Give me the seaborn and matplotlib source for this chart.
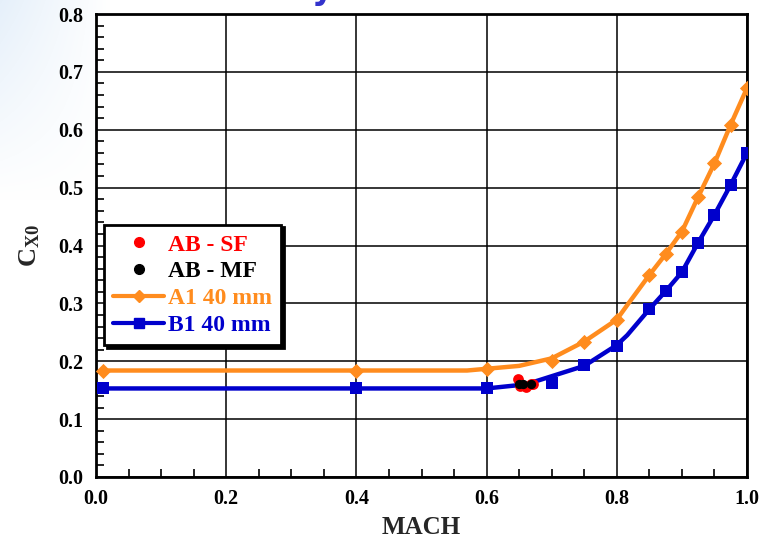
import numpy as np
import matplotlib
matplotlib.use("Agg")
import matplotlib.pyplot as plt
import seaborn as sns
from matplotlib.lines import Line2D
from matplotlib.ticker import MultipleLocator

# ---- data ----
a1_mach = [0.01, 0.4, 0.6, 0.7, 0.75, 0.8, 0.85, 0.875, 0.9, 0.925, 0.95, 0.975, 1.0]
a1_cx0 = [0.184, 0.184, 0.186, 0.201, 0.234, 0.271, 0.349, 0.385, 0.424, 0.484, 0.542, 0.609, 0.672]
a1_line_mach = [0.01, 0.4, 0.57, 0.65, 0.7, 0.75, 0.8, 0.816, 0.85, 0.875, 0.9, 0.925, 0.95, 0.975, 1.0]
a1_line_cx0 = [0.184, 0.184, 0.184, 0.192, 0.205, 0.234, 0.272, 0.297, 0.349, 0.385, 0.424, 0.484, 0.542, 0.609, 0.672]

b1_mach = [0.01, 0.4, 0.6, 0.7, 0.75, 0.8, 0.85, 0.875, 0.9, 0.925, 0.95, 0.975, 1.0]
b1_cx0 = [0.153, 0.153, 0.153, 0.163, 0.194, 0.226, 0.290, 0.321, 0.354, 0.405, 0.453, 0.505, 0.560]
b1_line_mach = [0.01, 0.4, 0.6, 0.66, 0.68, 0.75, 0.8, 0.816, 0.85, 0.875, 0.9, 0.925, 0.95, 0.975, 1.0]
b1_line_cx0 = [0.153, 0.153, 0.153, 0.160, 0.167, 0.192, 0.228, 0.245, 0.290, 0.321, 0.354, 0.405, 0.453, 0.505, 0.560]

absf_mach = [0.648, 0.652, 0.66, 0.668, 0.672]
absf_cx0 = [0.170, 0.158, 0.156, 0.160, 0.161]
abmf_mach = [0.650, 0.656, 0.668]
abmf_cx0 = [0.161, 0.160, 0.161]

labels = ["AB - SF", "AB - MF", "A1 40 mm", "B1 40 mm"]
x_ticks = [0.0, 0.2, 0.4, 0.6, 0.8, 1.0]
y_ticks = [0.0, 0.1, 0.2, 0.3, 0.4, 0.5, 0.6, 0.7, 0.8]

ORANGE = "#FF8C1E"
BLUE = "#0000CC"

sns.set_theme(style="white")
plt.rcParams["font.family"] = ["Liberation Serif", "DejaVu Serif"]
plt.rcParams["font.weight"] = "bold"
plt.rcParams["mathtext.fontset"] = "custom"
plt.rcParams["mathtext.rm"] = "Liberation Serif:bold"
plt.rcParams["mathtext.bf"] = "Liberation Serif:bold"
plt.rcParams["mathtext.it"] = "Liberation Serif:bold"

fig = plt.figure(figsize=(7.6, 5.4), dpi=100)

# faint slide background at left
bg = fig.add_axes([0, 0, 1, 1], zorder=-10)
bg.axis("off")
h, w = 540, 760
yy, xx = np.mgrid[0:h, 0:w]
fade = np.clip(1 - xx / 110.0, 0, 1) * np.clip(1 - yy / 200.0, 0, 1)
img = np.ones((h, w, 3))
img[..., 0] -= 0.10 * fade
img[..., 1] -= 0.06 * fade
img[..., 2] -= 0.02 * fade
bg.imshow(img, aspect="auto", extent=[0, 1, 0, 1], origin="upper")
bg.set_xlim(0, 1)
bg.set_ylim(0, 1)

ax = fig.add_axes([96 / 760, 1 - 477 / 540, 651 / 760, 463 / 540])
ax.set_facecolor("white")

sns.lineplot(x=a1_line_mach, y=a1_line_cx0, ax=ax, color=ORANGE, lw=3.2, sort=False, zorder=3)
sns.scatterplot(x=a1_mach, y=a1_cx0, ax=ax, color=ORANGE, marker="D", s=60, linewidth=0, zorder=4)
sns.lineplot(x=b1_line_mach, y=b1_line_cx0, ax=ax, color=BLUE, lw=3.2, sort=False, zorder=3)
sns.scatterplot(x=b1_mach, y=b1_cx0, ax=ax, color=BLUE, marker="s", s=75, linewidth=0, zorder=4)
sns.scatterplot(x=absf_mach, y=absf_cx0, ax=ax, color="red", marker="o", s=60, linewidth=0, zorder=5)
sns.scatterplot(x=abmf_mach, y=abmf_cx0, ax=ax, color="black", marker="o", s=45, linewidth=0, zorder=6)

ax.set_xlim(0, 1.0)
ax.set_ylim(0, 0.8)
ax.set_xticks(x_ticks)
ax.set_yticks(y_ticks)
ax.set_xticklabels([f"{v:.1f}" for v in x_ticks])
ax.set_yticklabels([f"{v:.1f}" for v in y_ticks])
ax.xaxis.set_minor_locator(MultipleLocator(0.05))
ax.yaxis.set_minor_locator(MultipleLocator(0.02))
ax.tick_params(axis="both", which="major", direction="in", length=0, labelsize=14.5, pad=9, colors="black")
ax.tick_params(axis="both", which="minor", direction="in", length=6, width=1.2, color="black")
ax.tick_params(axis="x", which="minor", bottom=True, top=False)
ax.tick_params(axis="y", which="minor", left=True, right=False)
for t in ax.get_xticklabels() + ax.get_yticklabels():
    t.set_fontweight("bold")
ax.grid(True, which="major", color="black", lw=1.1)
for s in ax.spines.values():
    s.set_color("black")
    s.set_linewidth(2)

ax.set_xlabel("MACH", fontsize=18, fontweight="bold", labelpad=5)
ax.set_ylabel(r"$\mathregular{C_{X0}}$", fontsize=19, fontweight="bold", labelpad=12)

handles = [
    Line2D([], [], color="red", marker="o", ls="none", ms=7),
    Line2D([], [], color="black", marker="o", ls="none", ms=7),
    Line2D([], [], color=ORANGE, marker="D", lw=3, ms=6),
    Line2D([], [], color=BLUE, marker="s", lw=3, ms=7),
]
leg = ax.legend(handles, labels, loc="upper left", bbox_to_anchor=(0.012, 0.545),
                borderaxespad=0, frameon=True, fancybox=False,
                shadow={"color": "black", "alpha": 1.0},
                prop={"family": "Liberation Serif", "weight": "bold", "size": 17},
                labelcolor=["red", "black", ORANGE, BLUE],
                handlelength=2.15, handletextpad=0.15, borderpad=0.4, labelspacing=0.22)
leg.get_frame().set_edgecolor("black")
leg.get_frame().set_linewidth(2)
leg.get_frame().set_facecolor("white")
leg.set_zorder(10)

fig.text(322 / 760, 1.0 + 1 / 540, "y", color="#3333CC", fontsize=24, fontweight="bold",
         family="DejaVu Sans", ha="center", va="baseline")

fig.savefig("out.png", dpi=100)
